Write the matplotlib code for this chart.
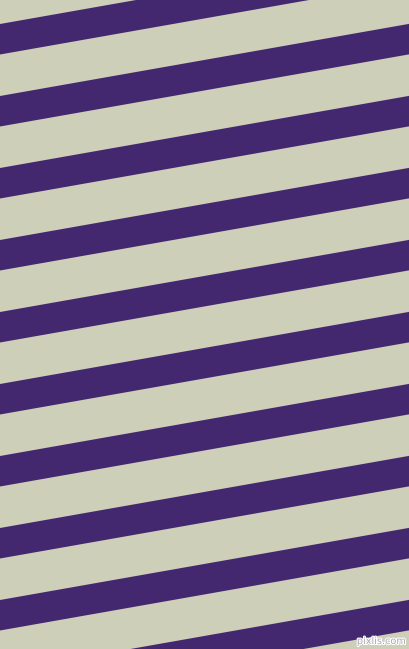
import numpy as np
import matplotlib
matplotlib.use("Agg")
import matplotlib.pyplot as plt
import matplotlib.patheffects as pe

width, height = 409, 649
stripe_tops = [-48, 24, 96, 168, 240, 312, 384, 456, 528, 600, 672]
stripe_thickness = 30.5        # vertical thickness of a purple band
angle_deg = 10                 # bands rise to the right
band_color = "#43286f"
ground_color = "#cecfb9"

fig = plt.figure(figsize=(width / 100, height / 100), dpi=100)
ax = fig.add_axes([0, 0, 1, 1])
ax.set_facecolor(ground_color)
fig.patch.set_facecolor(ground_color)

slope = np.tan(np.radians(angle_deg))
x = np.array([0, width])
for top in stripe_tops:
    ax.fill_between(x, top - slope * x, top + stripe_thickness - slope * x,
                    color=band_color, linewidth=0)

ax.set_xlim(0, width)
ax.set_ylim(height, 0)
ax.set_axis_off()

# watermark in the bottom right corner
ax.text(406, 646, "pixlis.com", ha="right", va="bottom", fontsize=7,
        color="#a8a8b4", family="DejaVu Sans",
        path_effects=[pe.withStroke(linewidth=1.5, foreground="white")])

fig.savefig("out.png", dpi=100, facecolor=ground_color)
